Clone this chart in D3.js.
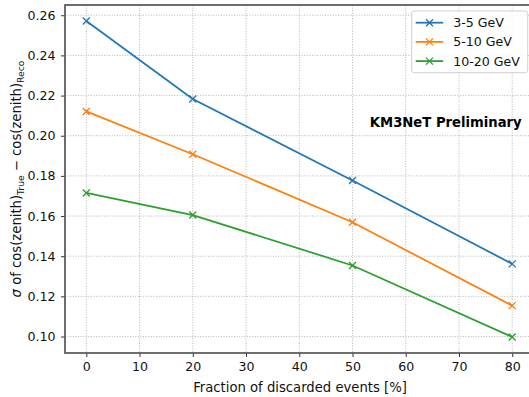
<!DOCTYPE html>
<html>
<head>
<meta charset="utf-8">
<script src="https://cdn.jsdelivr.net/npm/d3@7"></script>
<style>
  body { margin: 0; background: #fff; }
  svg { display: block; font-family: "DejaVu Sans", sans-serif; }
</style>
</head>
<body>
<div id="chart"></div>
<script>
// data
const fractions = [0, 20, 50, 80]
const seriesNames = ['3-5 GeV', '5-10 GeV', '10-20 GeV']
const low = [0.2571, 0.2183, 0.1777, 0.1362]
const mid = [0.2121, 0.1908, 0.1569, 0.1154]
const high = [0.1715, 0.1605, 0.1354, 0.0998]
const xTicks = [0, 10, 20, 30, 40, 50, 60, 70, 80]
const yTicks = [0.10, 0.12, 0.14, 0.16, 0.18, 0.20, 0.22, 0.24, 0.26]
const colors = ['#1f77b4', '#ff7f0e', '#2ca02c']

const series = [low, mid, high].map((vals, i) => ({
  name: seriesNames[i],
  color: colors[i],
  points: vals.map((v, j) => ({ x: fractions[j], y: v }))
}))

const width = 529, height = 397
const plot = { left: 65, right: 533.5, top: 5, bottom: 353 }
const tickFont = '12.6px', labelFont = '13.2px'

const svg = d3.select('#chart').append('svg')
    .attr('width', width)
    .attr('height', height)

const xScale = d3.scaleLinear().domain([-4, 84]).range([plot.left, plot.right])
const yScale = d3.scaleLinear().domain([0.0918, 0.2651]).range([plot.bottom, plot.top])

// grid
const grid = svg.append('g')
    .attr('stroke', '#b0b0b0')
    .attr('stroke-width', 0.9)
    .attr('stroke-dasharray', '1,1.6')
grid.selectAll('line.gx')
  .data(xTicks)
  .enter().append('line')
    .attr('x1', d => xScale(d)).attr('x2', d => xScale(d))
    .attr('y1', plot.top).attr('y2', plot.bottom)
grid.selectAll('line.gy')
  .data(yTicks)
  .enter().append('line')
    .attr('y1', d => yScale(d)).attr('y2', d => yScale(d))
    .attr('x1', plot.left).attr('x2', plot.right)

// axes
const xAxis = svg.append('g')
    .attr('transform', 'translate(0,' + plot.bottom + ')')
    .call(d3.axisBottom(xScale).tickValues(xTicks).tickSize(4).tickPadding(5.5).tickFormat(d3.format('d')))
const yAxis = svg.append('g')
    .attr('transform', 'translate(' + plot.left + ',0)')
    .call(d3.axisLeft(yScale).tickValues(yTicks).tickSize(4).tickPadding(5.5).tickFormat(d3.format('.2f')))

;[xAxis, yAxis].forEach(ax => {
  ax.select('.domain').remove()
  ax.selectAll('.tick line').attr('stroke', '#333').attr('stroke-width', 1)
  ax.selectAll('.tick text')
    .attr('fill', '#111')
    .style('font-size', tickFont)
    .style('font-family', '"DejaVu Sans", sans-serif')
})

// spines
svg.append('rect')
    .attr('x', plot.left).attr('y', plot.top)
    .attr('width', plot.right - plot.left).attr('height', plot.bottom - plot.top)
    .attr('fill', 'none')
    .attr('stroke', '#555')
    .attr('stroke-width', 1.7)

// lines
const line = d3.line()
    .x(d => xScale(d.x))
    .y(d => yScale(d.y))

const ms = 3.5
function cross(cx, cy) {
  return 'M' + (cx - ms) + ',' + (cy - ms) + 'L' + (cx + ms) + ',' + (cy + ms) +
         'M' + (cx - ms) + ',' + (cy + ms) + 'L' + (cx + ms) + ',' + (cy - ms)
}

series.forEach(s => {
  svg.append('path')
      .datum(s.points)
      .attr('fill', 'none')
      .attr('stroke', s.color)
      .attr('stroke-width', 1.75)
      .attr('d', line)
  svg.append('g').selectAll('path')
    .data(s.points)
    .enter().append('path')
      .attr('d', d => cross(xScale(d.x), yScale(d.y)))
      .attr('stroke', s.color)
      .attr('stroke-width', 1.3)
})

// annotation
svg.append('text')
    .attr('x', 521.7).attr('y', 126.5)
    .attr('text-anchor', 'end')
    .style('font-size', labelFont)
    .style('font-weight', 'bold')
    .attr('fill', '#000')
    .text('KM3NeT Preliminary')

// axis labels
svg.append('text')
    .attr('x', 300).attr('y', 391.5)
    .attr('text-anchor', 'middle')
    .style('font-size', labelFont)
    .attr('fill', '#111')
    .text('Fraction of discarded events [%]')

const ylab = svg.append('text')
    .attr('transform', 'translate(21,179) rotate(-90)')
    .attr('text-anchor', 'middle')
    .style('font-size', labelFont)
    .attr('fill', '#111')
ylab.append('tspan').style('font-style', 'italic').text('σ')
ylab.append('tspan').text(' of cos(zenith)')
ylab.append('tspan').attr('dy', 3).style('font-size', '9.2px').text('True')
ylab.append('tspan').attr('dy', -3).text(' − cos(zenith)')
ylab.append('tspan').attr('dy', 3).style('font-size', '9.2px').text('Reco')

// legend
const legend = svg.append('g').attr('transform', 'translate(411.7,11)')
legend.append('rect')
    .attr('width', 116).attr('height', 61.7)
    .attr('rx', 2.5)
    .attr('fill', '#fff').attr('fill-opacity', 0.85)
    .attr('stroke', '#d0d0d0').attr('stroke-width', 1)
series.forEach((s, i) => {
  const yy = 11.7 + i * 19.2
  legend.append('line')
      .attr('x1', 4).attr('x2', 31.5)
      .attr('y1', yy).attr('y2', yy)
      .attr('stroke', s.color).attr('stroke-width', 1.75)
  legend.append('path')
      .attr('d', cross(17.8, yy))
      .attr('stroke', s.color).attr('stroke-width', 1.3)
  legend.append('text')
      .attr('x', 41.5).attr('y', yy + 4.5)
      .style('font-size', tickFont)
      .attr('fill', '#111')
      .text(s.name)
})
</script>
</body>
</html>
